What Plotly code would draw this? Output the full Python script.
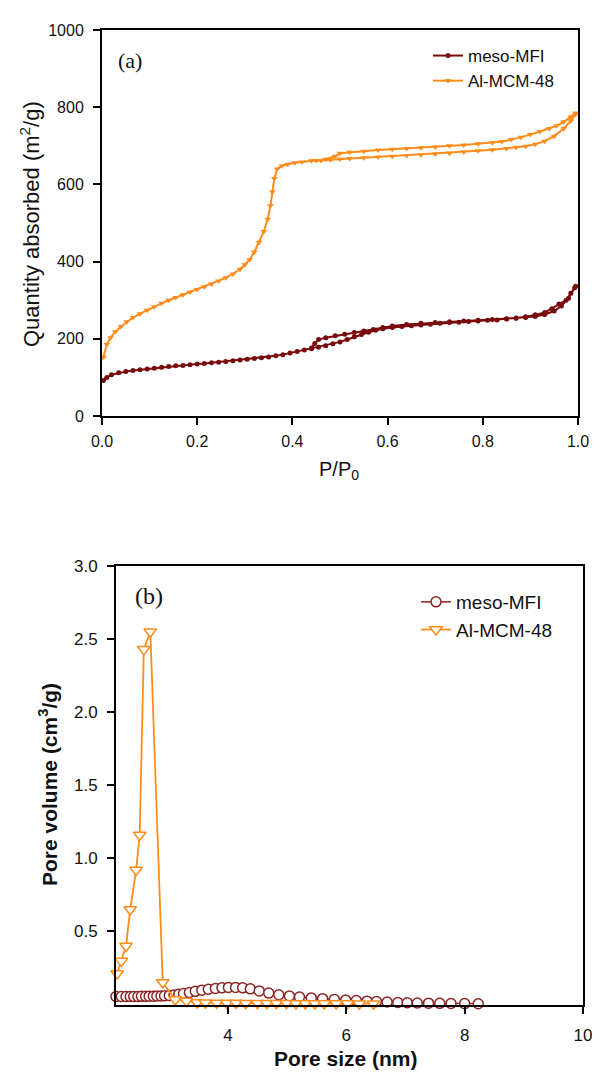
import plotly.graph_objects as go

# ---------- (a) N2 isotherms ----------
mfi_ads_x = [0.003, 0.010, 0.020, 0.035, 0.050, 0.065, 0.080, 0.095, 0.110, 0.125, 0.140, 0.155, 0.170,
             0.185, 0.200, 0.215, 0.230, 0.245, 0.260, 0.275, 0.290, 0.305, 0.320, 0.335, 0.350, 0.365,
             0.380, 0.395, 0.410, 0.425, 0.440, 0.455, 0.470, 0.485, 0.500, 0.515, 0.530, 0.545, 0.560,
             0.575, 0.590, 0.61, 0.63, 0.65, 0.67, 0.69, 0.71, 0.73, 0.75, 0.77, 0.79, 0.81, 0.83, 0.85,
             0.87, 0.89, 0.91, 0.93, 0.95, 0.965, 0.98, 0.993]
mfi_ads_y = [92, 100, 107, 112, 115, 118, 120, 122, 124, 126, 128, 130, 131,
             133, 135, 136, 138, 139, 141, 143, 145, 147, 149, 151, 153, 156,
             159, 163, 167, 171, 174, 178, 182, 187, 192, 198, 205, 211, 217,
             222, 226, 229, 232, 234, 236, 238, 240, 242, 243, 245, 246, 248, 249, 251,
             253, 255, 258, 263, 272, 285, 305, 332]
mfi_des_x = [0.995, 0.985, 0.975, 0.96, 0.945, 0.93, 0.91, 0.89, 0.87, 0.85, 0.82, 0.79, 0.76, 0.73,
             0.70, 0.67, 0.64, 0.61, 0.59, 0.57, 0.55, 0.53, 0.51, 0.49, 0.47, 0.455, 0.447, 0.44]
mfi_des_y = [336, 318, 300, 290, 278, 268, 262, 257, 254, 252, 250, 248, 246, 244,
             242, 240, 237, 233, 229, 224, 220, 216, 212, 208, 203, 198, 188, 176]

mcm_ads_x = [0.003, 0.010, 0.018, 0.028, 0.040, 0.052, 0.065, 0.080, 0.095, 0.110, 0.125, 0.140, 0.155,
             0.170, 0.185, 0.200, 0.215, 0.230, 0.245, 0.260, 0.275, 0.290, 0.300, 0.310, 0.320, 0.330,
             0.340, 0.348, 0.354, 0.358, 0.362, 0.368, 0.378, 0.390, 0.405, 0.420, 0.440, 0.460, 0.480,
             0.500, 0.52, 0.55, 0.58, 0.61, 0.64, 0.67, 0.70, 0.73, 0.76, 0.79, 0.82, 0.85, 0.87, 0.89,
             0.91, 0.93, 0.95, 0.97, 0.985, 0.995]
mcm_ads_y = [152, 185, 203, 218, 232, 244, 255, 265, 274, 283, 292, 300, 307,
             314, 321, 328, 335, 342, 350, 358, 368, 380, 392, 405, 425, 450,
             478, 510, 545, 580, 615, 640, 648, 652, 656, 658, 661, 662, 664,
             666, 667, 669, 671, 673, 675, 677, 679, 681, 684, 687, 690, 693, 696, 699,
             704, 712, 725, 745, 765, 782]
mcm_des_x = [0.995, 0.985, 0.97, 0.955, 0.94, 0.92, 0.90, 0.88, 0.86, 0.84, 0.82, 0.79, 0.76, 0.73,
             0.70, 0.67, 0.64, 0.61, 0.58, 0.55, 0.52, 0.50, 0.49, 0.47, 0.45]
mcm_des_y = [785, 775, 762, 752, 745, 737, 729, 722, 716, 711, 708, 705, 702, 700,
             697, 695, 693, 691, 689, 686, 683, 681, 673, 665, 662]

# ---------- (b) pore size distributions ----------
mfi_psd_x = [2.11, 2.20, 2.28, 2.35, 2.41, 2.48, 2.54, 2.61, 2.67, 2.74, 2.80, 2.87, 2.93, 3.01, 3.09,
             3.17, 3.25, 3.35, 3.45, 3.56, 3.67, 3.79, 3.90, 4.01, 4.13, 4.25, 4.38, 4.53, 4.69, 4.86,
             5.04, 5.21, 5.41, 5.60, 5.80, 5.99, 6.17, 6.35, 6.51, 6.69, 6.87, 7.03, 7.20, 7.39, 7.58,
             7.77, 8.00, 8.23]
mfi_psd_y = [0.055, 0.055, 0.055, 0.055, 0.055, 0.055, 0.056, 0.056, 0.057, 0.057, 0.058, 0.059, 0.060,
             0.062, 0.065, 0.070, 0.075, 0.082, 0.090, 0.098, 0.104, 0.110, 0.114, 0.117, 0.117, 0.114,
             0.107, 0.093, 0.078, 0.067, 0.058, 0.051, 0.045, 0.040, 0.035, 0.031, 0.027, 0.023, 0.020,
             0.017, 0.014, 0.012, 0.010, 0.009, 0.008, 0.007, 0.006, 0.005]

mcm_psd_x = [2.13, 2.20, 2.28, 2.35, 2.45, 2.51, 2.58, 2.69, 2.90, 3.11, 3.30, 3.48, 3.62, 3.81, 3.98,
             4.14, 4.30, 4.50, 4.66, 4.82, 4.99, 5.15, 5.31, 5.47, 5.63, 5.83, 6.02, 6.22, 6.46]
mcm_psd_y = [0.212, 0.297, 0.40, 0.65, 0.92, 1.16, 2.43, 2.55, 0.150, 0.034, 0.024, 0.014, 0.012, 0.011,
             0.010, 0.010, 0.009, 0.009, 0.008, 0.008, 0.008, 0.007, 0.007, 0.007, 0.006, 0.006, 0.006,
             0.005, 0.005]

ticks_a_x = [0.0, 0.2, 0.4, 0.6, 0.8, 1.0]
ticks_a_y = [0, 200, 400, 600, 800, 1000]
ticks_b_x = [4, 6, 8, 10]
ticks_b_y = [0.5, 1.0, 1.5, 2.0, 2.5, 3.0]

DARK = "#7a0a0a"
DARK_B = "#8c2323"
ORANGE = "#ff8c1a"
SANS = "Liberation Sans, Arial, sans-serif"
SERIF = "Liberation Serif, Times New Roman, serif"
TXT = "#111111"

fig = go.Figure()

fig.add_trace(go.Scatter(
    x=mfi_ads_x + mfi_des_x, y=mfi_ads_y + mfi_des_y, name="meso-MFI",
    mode="lines+markers", line=dict(color=DARK, width=2),
    marker=dict(symbol="circle", size=5, color=DARK),
    xaxis="x", yaxis="y", legend="legend", cliponaxis=False))
fig.add_trace(go.Scatter(
    x=mcm_ads_x + mcm_des_x, y=mcm_ads_y + mcm_des_y, name="Al-MCM-48",
    mode="lines+markers", line=dict(color=ORANGE, width=2),
    marker=dict(symbol="triangle-down", size=6, color=ORANGE),
    xaxis="x", yaxis="y", legend="legend", cliponaxis=False))

fig.add_trace(go.Scatter(
    x=mfi_psd_x, y=mfi_psd_y, name="meso-MFI",
    mode="lines+markers", line=dict(color=DARK_B, width=1.5),
    marker=dict(symbol="circle", size=10, color="white", line=dict(color=DARK_B, width=1.5)),
    xaxis="x2", yaxis="y2", legend="legend2", cliponaxis=False))
fig.add_trace(go.Scatter(
    x=mcm_psd_x, y=mcm_psd_y, name="Al-MCM-48",
    mode="lines+markers", line=dict(color=ORANGE, width=1.8),
    marker=dict(symbol="triangle-down", size=11, color="white", line=dict(color=ORANGE, width=1.5)),
    xaxis="x2", yaxis="y2", legend="legend2", cliponaxis=False))

W, H = 600, 1081
def px_x(v):
    return v / W
def px_y(v):
    return 1 - v / H

axis_common = dict(showline=True, linecolor="black", linewidth=2, mirror=True,
                   ticks="outside", ticklen=7, tickwidth=1.5, tickcolor="black",
                   showgrid=False, zeroline=False, automargin=False,
                   tickfont=dict(family=SANS, size=16, color=TXT))

def title_ann(text, x, y, size, angle=0):
    return dict(text=text, x=px_x(x), y=px_y(y), xref="paper", yref="paper",
                xanchor="center", yanchor="middle", showarrow=False, textangle=angle,
                font=dict(family=SANS, size=size, color=TXT))

fig.update_layout(
    width=W, height=H, margin=dict(l=0, r=0, t=0, b=0, autoexpand=False),
    paper_bgcolor="white", plot_bgcolor="white",
    xaxis=dict(axis_common, domain=[px_x(94), px_x(570)], range=[0, 1], tickvals=ticks_a_x,
               ticktext=[f"{v:.1f}" for v in ticks_a_x], anchor="y", ticklabelstandoff=3),
    yaxis=dict(axis_common, domain=[px_y(408), px_y(22)], range=[0, 1000], tickvals=ticks_a_y,
               anchor="x", ticklabelstandoff=6),
    xaxis2=dict(axis_common, domain=[px_x(108), px_x(575)], range=[2.11, 10], tickvals=ticks_b_x,
                anchor="y2", ticklabelstandoff=7, tickfont=dict(family=SANS, size=17, color=TXT)),
    yaxis2=dict(axis_common, domain=[px_y(996.5), px_y(558)], range=[0, 3], tickvals=ticks_b_y,
                ticktext=[f"{v:.1f}" for v in ticks_b_y], anchor="x2", ticklabelstandoff=6,
                tickfont=dict(family=SANS, size=17, color=TXT)),
    legend=dict(x=px_x(420), y=px_y(30), xanchor="left", yanchor="top", bgcolor="rgba(0,0,0,0)",
                font=dict(family=SANS, size=17, color=TXT), tracegroupgap=0),
    legend2=dict(x=px_x(408), y=px_y(575), xanchor="left", yanchor="top", bgcolor="rgba(0,0,0,0)",
                 font=dict(family=SANS, size=19, color=TXT), tracegroupgap=0),
    annotations=[
        title_ann("Quantity absorbed (m<sup>2</sup>/g)", 22, 216, 22, -90),
        title_ann("P/P<sub>0</sub>", 331, 462, 20),
        title_ann("<b>Pore volume (cm<sup>3</sup>/g)</b>", 40, 777, 21, -90),
        title_ann("<b>Pore size (nm)</b>", 338, 1050, 21),
        dict(text="(a)", x=px_x(108), y=px_y(53), xref="paper", yref="paper", xanchor="left",
             yanchor="middle", showarrow=False, font=dict(family=SERIF, size=22, color=TXT)),
        dict(text="(b)", x=px_x(125), y=px_y(588), xref="paper", yref="paper", xanchor="left",
             yanchor="middle", showarrow=False, font=dict(family=SERIF, size=24, color=TXT)),
    ],
    showlegend=True,
)

fig.write_html("out.html")
